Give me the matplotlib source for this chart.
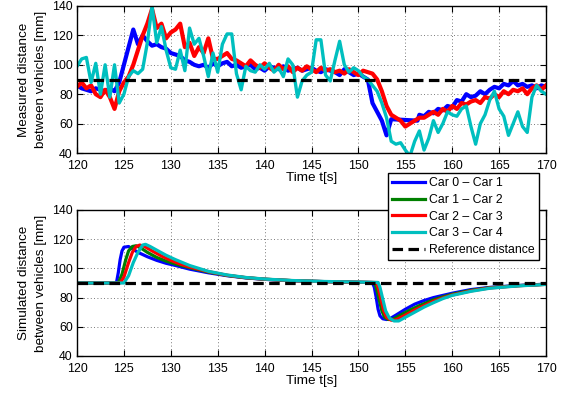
import numpy as np
import matplotlib
matplotlib.use("Agg")
import matplotlib.pyplot as plt

plt.rcParams['font.family'] = ['Liberation Sans', 'DejaVu Sans']

# ---------------- data ----------------
legend_labels = ["Car 0 \u2013 Car 1", "Car 1 \u2013 Car 2", "Car 2 \u2013 Car 3",
                 "Car 3 \u2013 Car 4", "Reference distance"]
ref_distance = 90

# measured (top panel)
meas_blue_t = np.concatenate([np.arange(120, 153.01, 0.5), [153.5, 156.3],
                              np.arange(156.5, 170.01, 0.5)])
meas_blue = [86, 84, 83, 82, 84, 83, 82, 84, 82, 88,
             100, 112, 124, 114, 120, 116, 113, 114, 112, 111,
             108, 107, 106, 103, 102, 100, 99, 100, 98, 101,
             99, 101, 102, 99, 100, 98, 99, 100, 97, 98,
             96, 99, 98, 97, 99, 96, 97, 98, 96, 97,
             98, 96, 95, 97, 96, 95, 93, 97, 95, 93,
             94, 92, 90, 74, 68, 62, 52,
             63, 62,
             66, 65, 68, 67, 70, 69, 72,
             71, 76, 75, 80, 78, 79, 82, 80, 83, 85,
             84, 87, 86, 89, 86, 87, 85, 86, 84, 86,
             85]

meas_t = np.arange(120, 170.01, 0.5)
meas_red = [85, 88, 84, 86, 80, 78, 83, 78, 70, 82,
            88, 92, 100, 110, 120, 128, 138, 125, 128, 118,
            122, 124, 128, 112, 115, 106, 112, 108, 118, 104,
            104, 106, 108, 104, 103, 101, 99, 103, 100, 98,
            101, 98, 96, 100, 97, 99, 95, 98, 96, 99,
            97, 95, 98, 96, 97, 95, 96, 94, 97, 95,
            93, 96, 95, 94, 90, 82, 72, 66, 64, 62,
            58, 60, 62, 64, 64, 66, 68, 66, 70, 68,
            72, 70, 74, 73, 75, 76, 74, 78, 77, 80,
            78, 82, 80, 83, 82, 84, 80, 84, 86, 83,
            86]
meas_cyan = [99, 104, 105, 88, 101, 80, 100, 78, 100, 74,
             80, 92, 96, 94, 97, 115, 140, 115, 126, 110,
             98, 97, 110, 96, 125, 114, 118, 106, 92, 108,
             95, 114, 121, 121, 94, 83, 99, 96, 95, 100,
             97, 101, 95, 98, 92, 104, 100, 78, 89, 93,
             95, 117, 117, 93, 89, 103, 116, 100, 95, 98,
             96, 92, 90, 86, 82, 74, 64, 48, 46, 47,
             42, 38, 48, 55, 42, 50, 62, 54, 60, 68,
             66, 65, 70, 72, 58, 46, 60, 66, 76, 82,
             70, 65, 52, 60, 68, 58, 54, 78, 86, 82,
             80]

# simulated (bottom panel)
sim_blue_t = [120, 124.2, 124.4, 124.6, 124.8, 125.0, 125.5, 126.5, 127.5, 128.5,
              129.5, 130.5, 132, 134, 136, 138, 140, 143, 146, 150, 151.5,
              151.7, 151.9, 152.1, 152.3, 152.6, 153.0, 153.3, 154, 155, 156,
              157, 158, 159, 160, 162, 164, 167, 170]
sim_blue = [90, 90, 97, 106, 112, 114.5, 115, 111, 108, 105.5,
            103.5, 102, 99.5, 97, 95, 93.5, 92.5, 91.5, 91, 90.5, 90.3,
            87, 80, 72, 67.5, 65.5, 65, 65.3, 68, 72, 75.5,
            78, 80, 81.5, 83, 85.5, 87, 88.3, 89.2]
sim_green_t = [120, 124.4, 124.8, 125.2, 125.5, 125.9, 126.3, 126.8, 127.5, 128.5,
               129.5, 130.5, 132, 134, 136, 138, 140, 143, 146, 150, 151.7,
               151.9, 152.2, 152.5, 152.8, 153.2, 153.7, 154.5, 155.5, 156.5,
               158, 159, 160, 162, 164, 167, 170]
sim_green = [90, 90, 96, 106, 112, 115, 115.5, 114, 111, 107.5,
             105, 103, 100.5, 97.5, 95.2, 93.6, 92.6, 91.6, 91, 90.5, 90.3,
             87, 79, 71, 66.5, 65, 65.2, 68, 71.5, 74.5,
             78.5, 80.5, 82.3, 85, 86.8, 88.2, 89.1]
sim_red_t = [120, 124.6, 125.0, 125.5, 125.9, 126.3, 126.7, 127.2, 128, 129,
             130, 131, 132, 134, 136, 138, 140, 143, 146, 150, 151.9,
             152.1, 152.4, 152.7, 153.0, 153.5, 154, 155, 156, 157,
             158, 159, 160, 162, 164, 167, 170]
sim_red = [90, 90, 94, 104, 111, 115, 116, 115, 112, 108.5,
           105.5, 103, 101, 97.8, 95.3, 93.7, 92.6, 91.6, 91, 90.5, 90.3,
           87, 79, 71, 66.5, 64.5, 64.8, 68, 71.5, 74.5,
           77.5, 79.8, 81.8, 84.6, 86.6, 88.1, 89.1]
sim_cyan_t = [120, 125.0, 125.5, 126, 126.5, 127, 127.3, 127.8, 128.5, 129.5,
              130.5, 132, 134, 136, 138, 140, 143, 146, 150, 152.1,
              152.3, 152.6, 152.9, 153.3, 153.8, 154.3, 155, 156, 157,
              158, 159, 160, 162, 164, 167, 170]
sim_cyan = [90, 90, 95, 104, 111, 116, 116.5, 115, 112.5, 109,
            106, 102, 98, 95.5, 93.8, 92.7, 91.7, 91.1, 90.6, 90.4,
            87, 79, 71, 66, 64, 64, 66.5, 70, 73.5,
            76.5, 79.3, 81.5, 84.3, 86.4, 88, 89]

xticks = [120, 125, 130, 135, 140, 145, 150, 155, 160, 165, 170]
yticks = [40, 60, 80, 100, 120, 140]

# ---------------- style ----------------
c_blue = (0, 0, 1)
c_green = (0, 0.5, 0)
c_red = (1, 0, 0)
c_cyan = (0, 0.75, 0.75)
lw = 2.3
dash = (3.3, 1.7)

fig = plt.figure(figsize=(5.68, 3.94), dpi=100)
ax1 = fig.add_axes([77/568, 1-153/394, 469/568, 147/394])
ax2 = fig.add_axes([77/568, 1-356/394, 469/568, 146/394])

def style(ax, ylabel):
    ax.set_xlim(120, 170)
    ax.set_ylim(40, 140)
    ax.set_xticks(xticks)
    ax.set_yticks(yticks)
    ax.tick_params(direction='in', length=4, width=0.8, top=True, right=True,
                   labelsize=8.9)
    ax.tick_params(axis='x', pad=5)
    ax.tick_params(axis='y', pad=3)
    ax.grid(True, linestyle=(0, (1, 3)), color='0.3', linewidth=0.6)
    for s in ax.spines.values():
        s.set_linewidth(1.0)
    ax.set_xlabel('Time t[s]', fontsize=9.7, labelpad=0)
    ax.set_ylabel(ylabel, fontsize=9.7, labelpad=4, linespacing=1.5)

ax1.plot(meas_blue_t, meas_blue, color=c_blue, lw=3.0)
ax1.plot(meas_t, meas_red, color=c_red, lw=3.0)
ax1.plot(meas_t, meas_cyan, color=c_cyan, lw=2.4)
ax1.axhline(ref_distance, color='k', lw=lw, dashes=dash)
style(ax1, 'Measured distance\nbetween vehicles [mm]')

h1, = ax2.plot(sim_blue_t, sim_blue, color=c_blue, lw=lw)
h2, = ax2.plot(sim_green_t, sim_green, color=c_green, lw=lw)
h3, = ax2.plot(sim_red_t, sim_red, color=c_red, lw=lw)
h4, = ax2.plot(sim_cyan_t, sim_cyan, color=c_cyan, lw=lw)
h5 = ax2.axhline(ref_distance, color='k', lw=lw, dashes=dash)
style(ax2, 'Simulated distance\nbetween vehicles [mm]')

leg = fig.legend([h1, h2, h3, h4, h5], legend_labels, loc='upper left',
                 bbox_to_anchor=(388/568, 1-173/394), borderaxespad=0,
                 fontsize=8.8, fancybox=False, framealpha=1, edgecolor='k',
                 handlelength=2.7, handletextpad=0.3, labelspacing=0.38,
                 borderpad=0.35)
leg.get_frame().set_linewidth(1.0)
leg.set_zorder(10)

fig.savefig('out.png', dpi=100)
